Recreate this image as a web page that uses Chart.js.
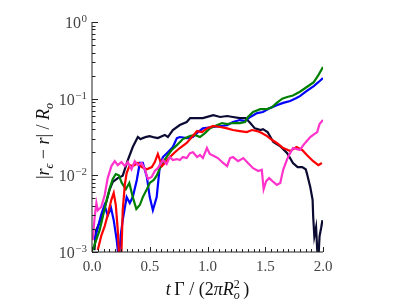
<!DOCTYPE html>
<html>
<head>
<meta charset="utf-8">
<script src="https://cdn.jsdelivr.net/npm/chart.js@4"></script>
<style>
  html, body { margin: 0; padding: 0; background: #fff; }
  #wrap { width: 399px; height: 302px; }
</style>
</head>
<body>
<div id="wrap"><canvas id="chart" width="399" height="302"></canvas></div>
<script>
// [t Gamma / (2 pi Ro^2), |r_eps - r| / Ro]
const black = [[0.021,0.00106],[0.035,0.0019],[0.064,0.0024],[0.093,0.0032],[0.122,0.0044],[0.151,0.0064],[0.18,0.0082],[0.223,0.0092],[0.266,0.0099],[0.31,0.0158],[0.353,0.0234],[0.397,0.0316],[0.42,0.0296],[0.44,0.0306],[0.47,0.0318],[0.50,0.0325],[0.54,0.0312],[0.57,0.0306],[0.60,0.0322],[0.63,0.0337],[0.657,0.0316],[0.70,0.039],[0.76,0.0453],[0.82,0.0496],[0.85,0.0558],[0.91,0.0558],[0.96,0.0558],[1.05,0.0611],[1.11,0.0577],[1.17,0.0594],[1.22,0.0577],[1.28,0.0558],[1.33,0.0558],[1.37,0.0481],[1.41,0.041],[1.46,0.039],[1.48,0.040],[1.52,0.0367],[1.57,0.0272],[1.63,0.024],[1.69,0.0195],[1.74,0.0145],[1.78,0.0128],[1.82,0.0128],[1.85,0.012],[1.86,0.0107],[1.89,0.007],[1.91,0.0048],[1.915,0.0029],[1.925,0.0016],[1.94,0.0021],[1.95,0.00106],[1.96,0.0008],[1.97,0.0016],[1.985,0.0021],[1.995,0.0026]];
const blue = [[0.021,0.00143],[0.05,0.00206],[0.078,0.0030],[0.108,0.0041],[0.136,0.0030],[0.165,0.00375],[0.188,0.0026],[0.214,0.00143],[0.232,0.0008],[0.249,0.00167],[0.266,0.0026],[0.30,0.0052],[0.327,0.00435],[0.353,0.0052],[0.388,0.0087],[0.414,0.0145],[0.44,0.0145],[0.475,0.0095],[0.50,0.0052],[0.527,0.0035],[0.56,0.0052],[0.588,0.0136],[0.614,0.0173],[0.657,0.020],[0.70,0.0234],[0.735,0.0306],[0.76,0.0316],[0.82,0.0306],[0.874,0.0316],[0.918,0.0367],[0.96,0.041],[1.05,0.0427],[1.17,0.045],[1.22,0.0496],[1.28,0.0526],[1.325,0.051],[1.37,0.0577],[1.43,0.0649],[1.48,0.067],[1.54,0.0753],[1.60,0.082],[1.655,0.088],[1.716,0.093],[1.77,0.102],[1.80,0.108],[1.86,0.126],[1.92,0.146],[1.96,0.164],[2.0,0.186]];
const green = [[0.006,0.00106],[0.036,0.00143],[0.067,0.00194],[0.093,0.00286],[0.123,0.0045],[0.154,0.0068],[0.18,0.00895],[0.206,0.0104],[0.232,0.010],[0.258,0.00795],[0.293,0.0066],[0.323,0.00795],[0.353,0.0052],[0.384,0.00364],[0.414,0.0041],[0.44,0.0052],[0.475,0.0066],[0.50,0.00795],[0.535,0.0087],[0.56,0.0099],[0.588,0.0124],[0.622,0.0153],[0.657,0.0184],[0.69,0.0214],[0.735,0.0248],[0.787,0.0297],[0.848,0.0325],[0.89,0.0337],[0.935,0.0316],[0.978,0.0356],[1.02,0.041],[1.08,0.045],[1.126,0.0481],[1.17,0.0465],[1.22,0.0481],[1.28,0.0481],[1.325,0.0496],[1.35,0.0577],[1.395,0.067],[1.456,0.073],[1.516,0.073],[1.56,0.0775],[1.60,0.088],[1.647,0.100],[1.69,0.105],[1.74,0.110],[1.80,0.123],[1.86,0.142],[1.92,0.164],[1.96,0.203],[2.0,0.258]];
const red = [[0.05,0.00106],[0.08,0.00162],[0.11,0.00218],[0.136,0.00304],[0.167,0.00476],[0.188,0.00588],[0.206,0.0041],[0.223,0.00194],[0.236,0.0008],[0.253,0.0008],[0.266,0.0035],[0.284,0.0075],[0.30,0.0107],[0.327,0.0136],[0.353,0.0132],[0.397,0.0145],[0.43,0.0128],[0.475,0.012],[0.518,0.0128],[0.544,0.0149],[0.57,0.019],[0.605,0.0132],[0.63,0.0145],[0.674,0.0173],[0.718,0.020],[0.76,0.0227],[0.82,0.0264],[0.865,0.0316],[0.91,0.0378],[0.952,0.0367],[0.995,0.041],[1.05,0.044],[1.11,0.0427],[1.17,0.041],[1.22,0.039],[1.28,0.0378],[1.34,0.0367],[1.385,0.039],[1.43,0.0378],[1.47,0.0356],[1.516,0.0325],[1.56,0.0289],[1.60,0.0264],[1.655,0.0227],[1.716,0.0207],[1.77,0.0234],[1.82,0.0214],[1.86,0.0184],[1.915,0.0153],[1.96,0.0136],[1.99,0.0145]];
const magenta = [[0.006,0.00143],[0.023,0.00286],[0.038,0.00435],[0.05,0.0035],[0.08,0.00386],[0.11,0.00553],[0.136,0.0092],[0.168,0.0132],[0.197,0.0153],[0.223,0.0136],[0.255,0.0149],[0.284,0.0132],[0.31,0.0149],[0.342,0.012],[0.37,0.0153],[0.397,0.0136],[0.43,0.0145],[0.457,0.012],[0.484,0.00895],[0.516,0.0095],[0.544,0.0114],[0.57,0.0124],[0.614,0.0158],[0.646,0.014],[0.674,0.0173],[0.70,0.0158],[0.735,0.0163],[0.76,0.0158],[0.787,0.0173],[0.82,0.0168],[0.848,0.0195],[0.874,0.020],[0.91,0.0173],[0.935,0.0184],[0.96,0.0168],[0.995,0.0227],[1.02,0.019],[1.056,0.0179],[1.09,0.0168],[1.135,0.0145],[1.17,0.0132],[1.195,0.0168],[1.22,0.0173],[1.265,0.0153],[1.31,0.0168],[1.35,0.0145],[1.395,0.0124],[1.44,0.0114],[1.47,0.0118],[1.486,0.0066],[1.508,0.0084],[1.534,0.0092],[1.57,0.0082],[1.60,0.0075],[1.63,0.00795],[1.655,0.0118],[1.69,0.0163],[1.716,0.0195],[1.74,0.0227],[1.775,0.022],[1.80,0.0214],[1.83,0.0248],[1.86,0.028],[1.89,0.0316],[1.915,0.0337],[1.95,0.0367],[1.97,0.0467],[2.0,0.0526]];

const xTicks = [0, 0.5, 1.0, 1.5, 2.0];
const yDecades = [-3, -2, -1, 0];

const serif = '"Liberation Serif", "DejaVu Serif", serif';

function toPoints(rows) {
    return rows.map(r => ({ x: r[0], y: r[1] }));
}

// draw a run of text pieces: [text, italic, size, dy, advance]
function drawPieces(ctx, pieces, x, y) {
    let cx = x;
    pieces.forEach(p => {
        ctx.font = (p[1] ? 'italic ' : '') + p[2] + 'px ' + serif;
        ctx.fillText(p[0], cx, y + p[3]);
        if (p[4] !== false) cx += ctx.measureText(p[0]).width;
    });
}

function piecesWidth(ctx, pieces) {
    let w = 0;
    pieces.forEach(p => {
        ctx.font = (p[1] ? 'italic ' : '') + p[2] + 'px ' + serif;
        if (p[4] !== false) w += ctx.measureText(p[0]).width;
    });
    return w;
}

const axisDecor = {
    id: 'axisDecor',
    afterDraw(chart) {
        const { ctx, chartArea: a, scales: { x, y } } = chart;
        ctx.save();
        ctx.strokeStyle = '#222';
        ctx.lineWidth = 1;

        // spines
        ctx.beginPath();
        ctx.moveTo(a.left, a.top);
        ctx.lineTo(a.left, a.bottom);
        ctx.lineTo(a.right, a.bottom);
        ctx.stroke();

        // x ticks, pointing in
        ctx.beginPath();
        for (let i = 0; i <= 40; i++) {
            const px = Math.round(x.getPixelForValue(i * 0.05)) + 0.5;
            const len = i % 10 === 0 ? 5 : 3;
            ctx.moveTo(px, a.bottom);
            ctx.lineTo(px, a.bottom - len);
        }
        // y ticks, pointing in
        yDecades.forEach(k => {
            const py = Math.round(y.getPixelForValue(Math.pow(10, k))) + 0.5;
            ctx.moveTo(a.left, py);
            ctx.lineTo(a.left + 6, py);
            if (k < 0) {
                for (let m = 2; m <= 9; m++) {
                    const pm = Math.round(y.getPixelForValue(m * Math.pow(10, k))) + 0.5;
                    ctx.moveTo(a.left, pm);
                    ctx.lineTo(a.left + 3.5, pm);
                }
            }
        });
        ctx.stroke();

        // y tick labels 10^k
        ctx.fillStyle = '#444';
        ctx.textBaseline = 'alphabetic';
        ctx.textAlign = 'left';
        yDecades.forEach(k => {
            const py = y.getPixelForValue(Math.pow(10, k));
            const exp = k === 0 ? '0' : '\u2212' + (-k);
            ctx.font = '11px ' + serif;
            const ew = ctx.measureText(exp).width;
            ctx.font = '16px ' + serif;
            const bw = ctx.measureText('10').width;
            const right = a.left - 5;
            ctx.fillText('10', right - ew - bw - 0.5, py + 6);
            ctx.font = '11px ' + serif;
            ctx.fillText(exp, right - ew, py);
        });

        // axis titles
        ctx.fillStyle = '#111';
        const xt = [['t', true, 18, 0], ['\u2009\u0393', false, 18, 0], [' / ', false, 18, 0], ['(', false, 18, 0],
                    ['2', false, 18, 0], ['\u03c0', true, 18, 0], ['R', true, 18, 0],
                    ['o', true, 12, 4, false], ['2', false, 12, -7], ['\u2009)', false, 18, 0]];
        const xw = piecesWidth(ctx, xt);
        drawPieces(ctx, xt, (a.left + a.right) / 2 - xw / 2, 295);

        const yt = [['|', false, 18, 0], ['r', true, 18, 0], ['\u03f5', true, 12, 4], [' \u2212 ', false, 18, 0],
                    ['r', true, 18, 0], ['|', false, 18, 0], [' / ', false, 18, 0], ['R', true, 18, 0], ['o', true, 12, 4]];
        const yw = piecesWidth(ctx, yt);
        ctx.translate(49, (a.top + a.bottom) / 2 + 4);
        ctx.rotate(-Math.PI / 2);
        drawPieces(ctx, yt, -yw / 2, 0);
        ctx.restore();
    }
};

const series = [
    { label: 'magenta', rows: magenta, color: '#ff33cc' },
    { label: 'red', rows: red, color: '#ff0000' },
    { label: 'green', rows: green, color: '#008000' },
    { label: 'blue', rows: blue, color: '#0000ff' },
    { label: 'black', rows: black, color: '#0a0a32' }
];

new Chart(document.getElementById('chart'), {
    type: 'line',
    data: {
        datasets: series.map(s => ({
            label: s.label,
            data: toPoints(s.rows),
            borderColor: s.color,
            borderWidth: 2.2,
            pointRadius: 0,
            tension: 0,
            clip: 0
        }))
    },
    options: {
        responsive: false,
        animation: false,
        layout: { padding: { top: 22, right: 76, left: 0, bottom: 0 } },
        plugins: { legend: { display: false }, tooltip: { enabled: false } },
        scales: {
            x: {
                type: 'linear',
                min: 0,
                max: 2,
                afterFit: s => { s.height = 50; },
                afterBuildTicks: s => { s.ticks = xTicks.map(v => ({ value: v })); },
                grid: { display: false, drawTicks: false },
                border: { display: false },
                ticks: {
                    padding: 6,
                    color: '#444',
                    font: { family: serif, size: 15 },
                    maxRotation: 0,
                    callback: v => v.toFixed(1)
                }
            },
            y: {
                type: 'logarithmic',
                min: 0.001,
                max: 1,
                afterFit: s => { s.width = 92; },
                grid: { display: false, drawTicks: false },
                border: { display: false },
                ticks: { display: false }
            }
        }
    },
    plugins: [axisDecor]
});
</script>
</body>
</html>
